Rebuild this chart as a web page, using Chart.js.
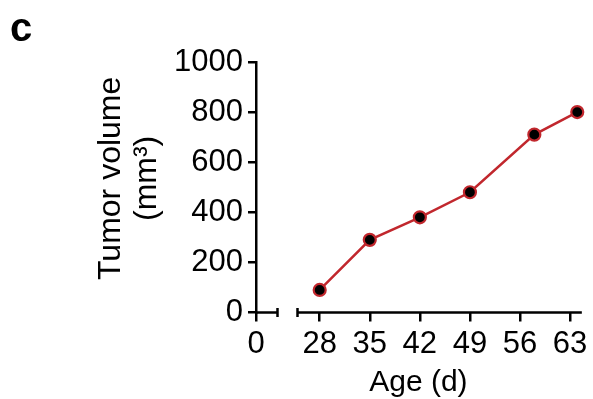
<!DOCTYPE html>
<html>
<head>
<meta charset="utf-8">
<script src="https://cdn.jsdelivr.net/npm/chart.js@4.4.1/dist/chart.umd.min.js"></script>
<style>
  html, body { margin: 0; padding: 0; background: #fff; }
</style>
</head>
<body>
<canvas id="chart" width="593" height="399"></canvas>
<script>
// data
const ageDays = [28, 35, 42, 49, 58, 64];
const tumorVolume = [90, 290, 380, 480, 710, 800];
const ageTicks = [28, 35, 42, 49, 56, 63];
const zeroTicks = [0];
const volumeTicks = [0, 200, 400, 600, 800, 1000];

const red = '#c1272d';
const font = 'Liberation Sans, Arial, Helvetica, sans-serif';

// axis line with a break between the "0" piece and the 28-63 piece
const brokenAxis = {
    id: 'brokenAxis',
    beforeDatasetsDraw(chart) {
        const ctx = chart.ctx;
        const left = chart.scales.x0;
        const right = chart.scales.x;
        const y = left.top;
        const leftEnd = left.right - 10;
        const rightStart = right.left + 10;
        ctx.save();
        ctx.strokeStyle = '#000';
        ctx.lineWidth = 2.5;
        ctx.beginPath();
        ctx.moveTo(left.left - 1, y);
        ctx.lineTo(leftEnd, y);
        ctx.moveTo(leftEnd, y - 4.5);
        ctx.lineTo(leftEnd, y + 4.5);
        ctx.moveTo(rightStart, y - 4.5);
        ctx.lineTo(rightStart, y + 4.5);
        ctx.moveTo(rightStart, y);
        ctx.lineTo(right.right + 1, y);
        ctx.stroke();
        ctx.restore();
    }
};

const tickGrid = {
    drawOnChartArea: false,
    drawTicks: true,
    tickLength: 9,
    color: '#000',
    lineWidth: 2.5
};

const tickFont = { family: font, size: 31 };
const plain = v => String(v);

new Chart(document.getElementById('chart'), {
    type: 'line',
    data: {
        datasets: [{
            data: ageDays.map((d, i) => ({ x: d, y: tumorVolume[i] })),
            borderColor: red,
            borderWidth: 2.5,
            pointRadius: 6,
            pointBorderWidth: 2.2,
            pointBackgroundColor: '#000',
            pointBorderColor: red,
            tension: 0,
            clip: false,
            xAxisID: 'x',
            yAxisID: 'y'
        }]
    },
    plugins: [brokenAxis],
    options: {
        responsive: false,
        animation: false,
        layout: { padding: { left: 10, right: 7, top: 0, bottom: 0 } },
        plugins: {
            legend: { display: false },
            tooltip: { enabled: false },
            title: {
                display: true,
                text: 'c',
                align: 'start',
                color: '#000',
                font: { family: font, size: 40, weight: 'bold', lineHeight: 1 },
                padding: { top: 10, bottom: 12 }
            },
            subtitle: {
                display: true,
                text: 'Age (d)',
                position: 'bottom',
                fullSize: false,
                color: '#000',
                font: { family: font, size: 30, lineHeight: 1 },
                padding: { top: 0, bottom: 1 }
            }
        },
        scales: {
            x0: {
                type: 'linear',
                position: 'bottom',
                stack: 'age',
                stackWeight: 32,
                min: 0,
                max: 4,
                afterBuildTicks: s => { s.ticks = zeroTicks.map(v => ({ value: v })); },
                afterFit: s => { s.height = 55.5; },
                border: { display: false },
                grid: tickGrid,
                ticks: { color: '#000', padding: 4, font: tickFont, callback: plain }
            },
            x: {
                type: 'linear',
                position: 'bottom',
                stack: 'age',
                stackWeight: 298,
                min: 23.5,
                max: 64.5,
                afterBuildTicks: s => { s.ticks = ageTicks.map(v => ({ value: v })); },
                afterFit: s => { s.height = 55.5; },
                border: { display: false },
                grid: tickGrid,
                ticks: { color: '#000', padding: 4, font: tickFont, callback: plain }
            },
            y: {
                type: 'linear',
                position: 'left',
                min: 0,
                max: 1000,
                afterBuildTicks: s => { s.ticks = volumeTicks.map(v => ({ value: v })); },
                afterFit: s => { s.width = 246; },
                border: { display: true, color: '#000', width: 2.5 },
                grid: { drawOnChartArea: false, drawTicks: true, tickLength: 8, color: '#000', lineWidth: 2.5 },
                ticks: { color: '#000', padding: 5, font: tickFont, callback: plain },
                title: {
                    display: true,
                    // leading spaces nudge the centred title up a little, as in the figure
                    text: ['  Tumor volume', '  (mm³)'],
                    color: '#000',
                    font: { family: font, size: 32, lineHeight: 1.125 },
                    padding: { top: 82.9, bottom: 0 }
                }
            }
        }
    }
});
</script>
</body>
</html>
